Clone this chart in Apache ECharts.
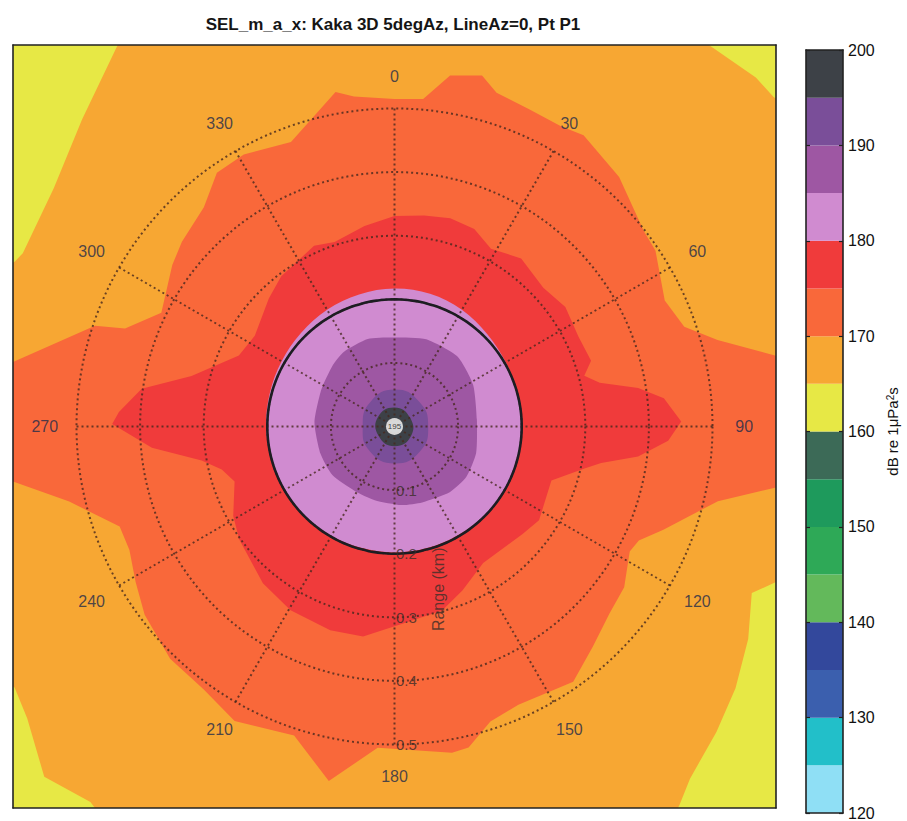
<!DOCTYPE html>
<html>
<head>
<meta charset="utf-8">
<title>SEL_m_a_x</title>
<script src="https://cdn.jsdelivr.net/npm/echarts@6.0.0/dist/echarts.min.js"></script>
<style>
  html, body { margin: 0; padding: 0; background: #ffffff; }
  #chart { width: 907px; height: 821px; }
</style>
</head>
<body>
<div id="chart"></div>
<script>
// ---- contour levels (dB re 1 uPa^2 s) and boundary traces [azimuth deg, range km] ----
const levels = [165, 170, 175, 180, 185, 190, 195];

const contour165 = [[0,0.9],[20,0.88],[30,0.8],[35,0.78],[39,0.777],[46,0.79],[49,0.79],[55,0.82],[65,0.9],[90,0.9],
  [100,0.8],[105,0.7],[110,0.66],[112,0.65],[115,0.62],[121,0.649],[127.5,0.676],[133.5,0.698],[140,0.723],[143,0.745],
  [150,0.8],[165,0.9],[195,0.9],[210,0.8],[219,0.76],[225,0.779],[231.5,0.738],[235.5,0.725],[240,0.75],[250,0.85],
  [270,0.9],[285,0.8],[290,0.68],[293.5,0.651],[295,0.645],[305,0.654],[314.5,0.689],[324,0.741],[330,0.8],[345,0.88]];

const contour170 = [[0,0.515],[5,0.517],[9,0.559],[14,0.569],[17,0.549],[23,0.542],[29,0.54],[33,0.546],[42,0.528],
  [52,0.498],[56,0.495],[65,0.469],[71,0.482],[75,0.526],[79.5,0.61],[85,0.66],[95,0.66],[99,0.61],[103,0.522],
  [111,0.453],[115,0.424],[118,0.419],[125,0.441],[131,0.448],[138,0.466],[145,0.49],[149,0.484],[156,0.479],
  [162,0.488],[167,0.518],[170,0.521],[183,0.506],[190.5,0.567],[198,0.511],[208.5,0.527],[216,0.511],[224,0.508],
  [233,0.492],[239,0.475],[245,0.46],[250,0.46],[257,0.525],[262,0.61],[266,0.66],[276,0.66],[279.5,0.61],
  [288.6,0.497],[290,0.451],[296,0.408],[306,0.432],[311,0.443],[319,0.457],[325,0.487],[331,0.489],[340,0.476],
  [350,0.534],[353,0.523]];

const contour175 = [[0,0.331],[8,0.335],[15,0.339],[22,0.335],[28.5,0.318],[37,0.331],[47,0.32],[55,0.328],[64,0.322],
  [71.5,0.326],[75,0.309],[78,0.33],[81,0.388],[84,0.426],[89,0.451],[93,0.431],[97,0.386],[100,0.33],[102.5,0.306],
  [109,0.261],[123,0.271],[130,0.263],[147,0.256],[157.5,0.279],[165.5,0.299],[177.5,0.31],[188.5,0.334],[197.5,0.336],
  [209.5,0.332],[220,0.322],[234,0.302],[241,0.29],[251,0.266],[256,0.28],[260,0.308],[265,0.383],[270.5,0.444],
  [273,0.434],[278.5,0.402],[284,0.329],[294.5,0.269],[303,0.262],[315.5,0.282],[323,0.296],[336,0.311],[342,0.305],
  [351.5,0.319]];

const contour180 = [[0,0.217],[15,0.216],[30,0.212],[45,0.206],[60,0.202],[75,0.2],[90,0.2],[105,0.2],[120,0.2],
  [135,0.199],[150,0.198],[165,0.198],[180,0.198],[195,0.198],[210,0.199],[225,0.2],[240,0.2],[255,0.201],[270,0.202],
  [285,0.203],[300,0.205],[315,0.208],[330,0.212],[345,0.215]];

const contour185 = [[0,0.14],[20,0.146],[42,0.148],[62,0.14],[85,0.13],[108,0.135],[125,0.138],[140,0.135],[160,0.127],
  [175,0.124],[195,0.12],[212,0.119],[232,0.124],[250,0.124],[273,0.126],[297,0.129],[315,0.137],[326,0.142],[343,0.144]];

const contour190 = [[0,0.058],[45,0.055],[90,0.053],[135,0.056],[180,0.058],[225,0.055],[270,0.05],[315,0.054]];

const contour195 = [[0,0.03],[60,0.028],[120,0.03],[180,0.031],[240,0.029],[300,0.03]];

// ---- colour scale: 5 dB bands from 120 to 200 ----
const bandEdges = [120,125,130,135,140,145,150,155,160,165,170,175,180,185,190,195,200];
const bandColors = ['#8fdff5','#22bfc9','#3b5fae','#33489c','#63b95b','#2ea957','#1e9a5c','#3c6a57',
  '#e7e845','#f7a733','#f9683a','#f03b3b','#d08bd0','#9e57a3','#7a4e99','#3d4147'];

// ---- polar grid ----
const angleTicks = [0,30,60,90,120,150,180,210,240,270,300,330];
const rangeTicks = [0.1,0.2,0.3,0.4,0.5];
const exclusionRadius = 0.2;   // km, solid ring
const angleLabelRadius = 0.55; // km

const FONT = "'Liberation Sans', Arial, Helvetica, sans-serif";

const contourTraces = [contour165, contour170, contour175, contour180, contour185, contour190, contour195];
const contourSmooth = [0, 0, 0, 0.35, 0.2, 0.5, 0.5];
const colorFor = lvl => bandColors[bandEdges.indexOf(lvl)];

// azimuth clockwise from north, range in km -> east/north km
function toXY(az, r) {
  const t = az * Math.PI / 180;
  return [r * Math.sin(t), r * Math.cos(t)];
}

const ringPts = [];
for (let a = 0; a <= 360; a += 3) ringPts.push([exclusionRadius, a]);

const dotted = { color: 'rgba(70,40,30,0.8)', width: 2, type: [2, 3] };
const frameLine = { show: true, onZero: false, lineStyle: { color: '#222', width: 1.6 } };
const hidden = { show: false };

const chart = echarts.init(document.getElementById('chart'), null, { renderer: 'svg' });

chart.setOption({
  animation: false,
  backgroundColor: '#ffffff',
  title: {
    text: 'SEL_m_a_x: Kaka 3D 5degAz, LineAz=0, Pt P1',
    left: 393, top: 16, padding: 0, textAlign: 'center',
    textStyle: { fontFamily: FONT, fontSize: 17, fontWeight: 'bold', color: '#151515' }
  },
  grid: [
    { left: 13, top: 45, width: 763, height: 763, show: true, backgroundColor: colorFor(160), borderWidth: 0, outerBoundsMode: 'none' },
    { left: 806, top: 50, width: 37, height: 763, show: false, outerBoundsMode: 'none' }
  ],
  xAxis: [
    { gridIndex: 0, type: 'value', min: -0.6, max: 0.6, position: 'bottom', z: 12, axisLine: frameLine, axisTick: hidden, axisLabel: hidden, splitLine: hidden },
    { gridIndex: 0, type: 'value', min: -0.6, max: 0.6, position: 'top', z: 12, axisLine: frameLine, axisTick: hidden, axisLabel: hidden, splitLine: hidden },
    { gridIndex: 1, type: 'value', min: 0, max: 1, position: 'bottom', z: 12, axisLine: frameLine, axisTick: hidden, axisLabel: hidden, splitLine: hidden },
    { gridIndex: 1, type: 'value', min: 0, max: 1, position: 'top', z: 12, axisLine: frameLine, axisTick: hidden, axisLabel: hidden, splitLine: hidden }
  ],
  yAxis: [
    { gridIndex: 0, type: 'value', min: -0.6, max: 0.6, position: 'left', z: 12, axisLine: frameLine, axisTick: hidden, axisLabel: hidden, splitLine: hidden },
    { gridIndex: 0, type: 'value', min: -0.6, max: 0.6, position: 'right', z: 12, axisLine: frameLine, axisTick: hidden, axisLabel: hidden, splitLine: hidden },
    { gridIndex: 1, type: 'value', min: 120, max: 200, interval: 10, position: 'right', z: 12,
      axisLine: frameLine,
      axisTick: { show: true, inside: true, length: 4, lineStyle: { color: '#222', width: 1.2 } },
      axisLabel: { show: true, margin: 5, fontFamily: FONT, fontSize: 16, color: '#111' },
      splitLine: hidden,
      name: 'dB re 1μPa{sup|2}s', nameLocation: 'middle', nameRotate: 90, nameGap: 42,
      nameTextStyle: { fontFamily: FONT, fontSize: 15, color: '#111',
        rich: { sup: { fontFamily: FONT, fontSize: 10, color: '#111', verticalAlign: 'top' } } } },
    { gridIndex: 1, type: 'value', min: 120, max: 200, interval: 10, position: 'left', z: 12,
      axisLine: frameLine,
      axisTick: { show: true, inside: true, length: 4, lineStyle: { color: '#222', width: 1.2 } },
      axisLabel: hidden, splitLine: hidden }
  ],
  polar: { center: [394.5, 426.5], radius: 318 },
  angleAxis: {
    type: 'value', min: 0, max: 360, interval: 30, startAngle: 90, clockwise: true, z: 10,
    axisLine: hidden, axisTick: hidden, axisLabel: hidden,
    splitLine: { show: true, lineStyle: dotted }
  },
  radiusAxis: {
    type: 'value', min: 0, max: 0.5, interval: 0.1, z: 10,
    axisLine: hidden, axisTick: hidden, axisLabel: hidden,
    splitLine: { show: true, lineStyle: dotted }
  },
  series: [
    {
      // filled contour bands, outermost first
      type: 'custom', coordinateSystem: 'cartesian2d', xAxisIndex: 0, yAxisIndex: 0,
      clip: true, silent: true, z: 2,
      data: levels.map((lvl, i) => [i]),
      renderItem: (params, api) => {
        const i = api.value(0);
        const pts = contourTraces[i].map(([az, r]) => api.coord(toXY(az, r)));
        return {
          type: 'polygon',
          shape: { points: pts, smooth: contourSmooth[i] },
          style: { fill: colorFor(levels[i]), stroke: null }
        };
      }
    },
    {
      // centre peak label
      type: 'scatter', coordinateSystem: 'cartesian2d', xAxisIndex: 0, yAxisIndex: 0, z: 13, silent: true,
      data: [[0, 0]], symbol: 'circle', symbolSize: 17, itemStyle: { color: '#ffffff' },
      label: { show: true, position: 'inside', formatter: '195', fontFamily: FONT, fontSize: 8, color: '#111' }
    },
    {
      // solid range ring
      type: 'line', coordinateSystem: 'polar', data: ringPts, smooth: true, symbol: 'none', z: 11, silent: true,
      lineStyle: { color: '#1d1d22', width: 2.6 }
    },
    {
      // azimuth labels, placed just outside the outer ring
      type: 'scatter', coordinateSystem: 'cartesian2d', xAxisIndex: 0, yAxisIndex: 0, z: 12, silent: true,
      clip: false,
      data: angleTicks.map(a => toXY(a, angleLabelRadius).concat([a])),
      symbolSize: 1, itemStyle: { color: 'rgba(0,0,0,0)' },
      label: { show: true, position: 'inside', formatter: p => String(p.value[2]),
        fontFamily: FONT, fontSize: 16, color: '#1f2b4a' }
    },
    {
      // range ring labels
      type: 'scatter', coordinateSystem: 'polar', z: 12, silent: true,
      data: rangeTicks.map(r => [r, 180]),
      symbolSize: 1, itemStyle: { color: 'rgba(0,0,0,0)' },
      label: { show: true, position: 'right', distance: 1, formatter: p => String(p.value[0]),
        fontFamily: FONT, fontSize: 15, color: '#3a2d28' }
    },
    {
      // range axis title
      type: 'scatter', coordinateSystem: 'polar', z: 12, silent: true,
      data: [[0.265, 165]],
      symbolSize: 1, itemStyle: { color: 'rgba(0,0,0,0)' },
      label: { show: true, position: 'inside', rotate: 90, formatter: 'Range (km)',
        fontFamily: FONT, fontSize: 16, color: '#3a2d28' }
    },
    {
      // colour bar
      type: 'custom', coordinateSystem: 'cartesian2d', xAxisIndex: 2, yAxisIndex: 2, silent: true, z: 2,
      data: bandColors.map((c, i) => [bandEdges[i], bandEdges[i + 1]]),
      renderItem: (params, api) => {
        const top = api.coord([0, api.value(1)]);
        const bot = api.coord([1, api.value(0)]);
        return {
          type: 'rect',
          shape: { x: top[0], y: top[1], width: bot[0] - top[0], height: bot[1] - top[1] },
          style: { fill: bandColors[params.dataIndex], stroke: null }
        };
      }
    }
  ]
});
</script>
</body>
</html>
